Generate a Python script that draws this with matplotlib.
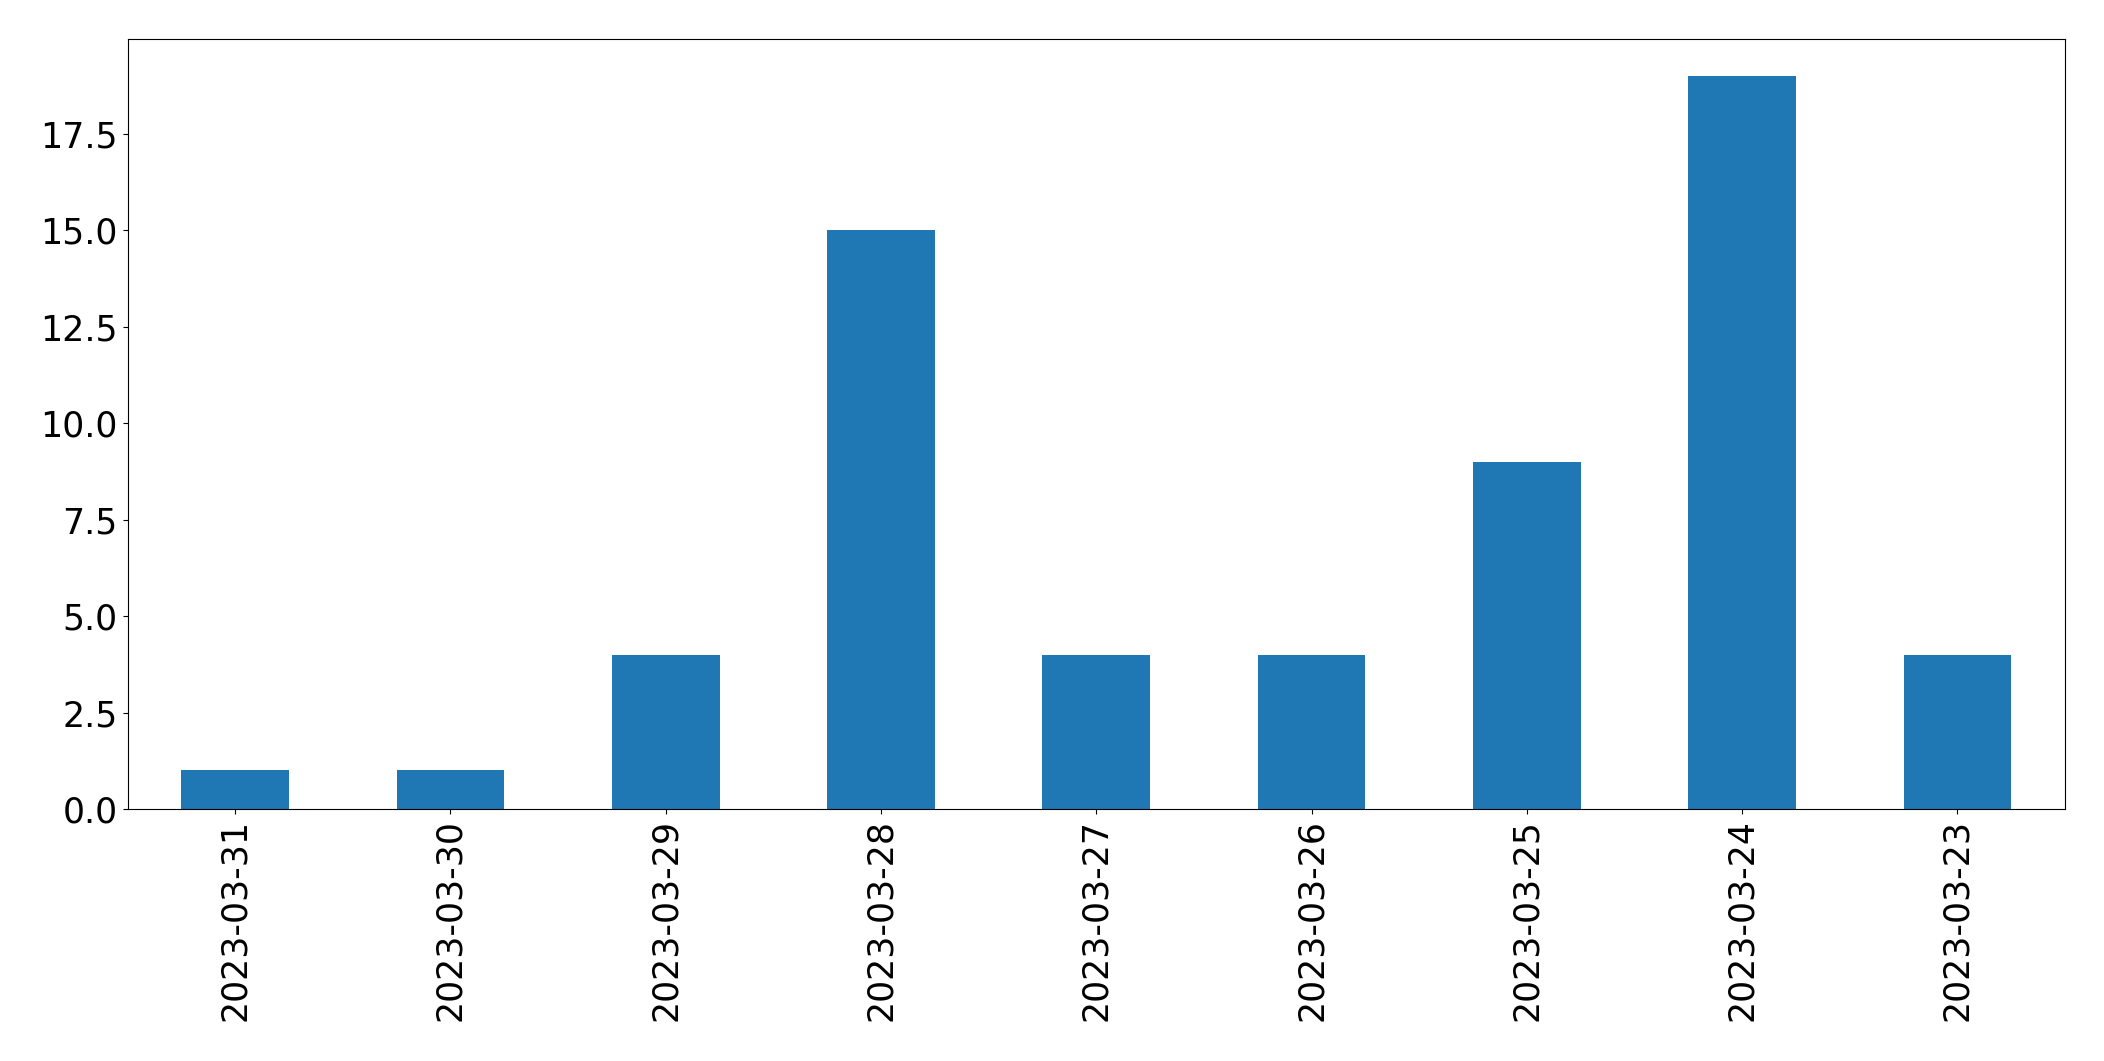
import matplotlib
matplotlib.use("Agg")
import matplotlib.pyplot as plt
import pandas as pd

dates = ["2023-03-31", "2023-03-30", "2023-03-29", "2023-03-28", "2023-03-27",
         "2023-03-26", "2023-03-25", "2023-03-24", "2023-03-23"]
counts = [1, 1, 4, 15, 4, 4, 9, 19, 4]

s = pd.Series(counts, index=dates)

fig, ax = plt.subplots(figsize=(21.04, 10.61), dpi=100)
s.plot(kind="bar", ax=ax, fontsize=25, color="#1f77b4")
fig.subplots_adjust(left=0.0606, right=0.9815, top=0.9632, bottom=0.2375)
fig.savefig("out.png", dpi=100)
